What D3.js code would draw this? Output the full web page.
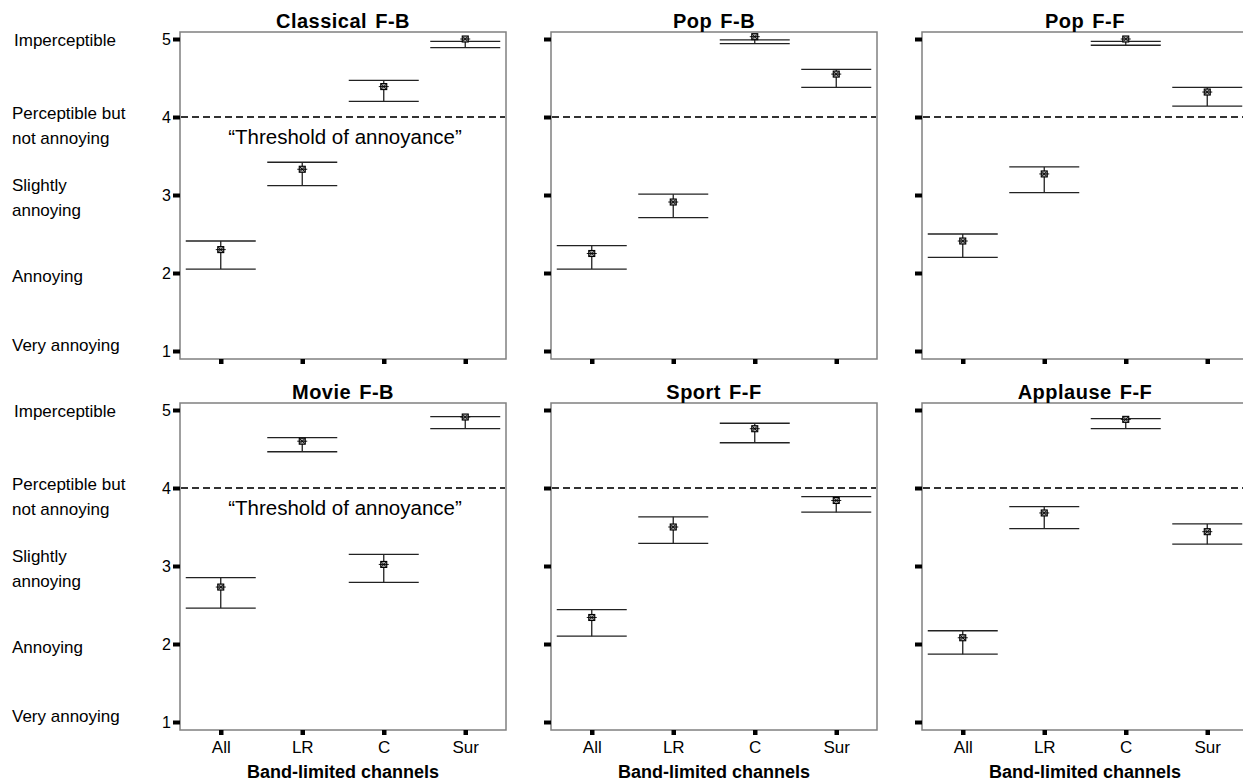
<!DOCTYPE html>
<html>
<head>
<meta charset="utf-8">
<script src="https://cdn.jsdelivr.net/npm/d3@7"></script>
<style>
  body { margin: 0; background: #fff; }
  text { font-family: Arial, "Liberation Sans", sans-serif; fill: #000; }
</style>
</head>
<body>
<div id="chart"></div>
<script>
// Data
const channels = ["All", "LR", "C", "Sur"];
const panelTitles = ["Classical F-B", "Pop F-B", "Pop F-F", "Movie F-B", "Sport F-F", "Applause F-F"];
const meanScores = [
  [2.30, 3.33, 4.39, 5.00],
  [2.25, 2.91, 5.03, 4.55],
  [2.41, 3.27, 5.00, 4.32],
  [2.73, 4.60, 3.02, 4.91],
  [2.34, 3.50, 4.76, 3.84],
  [2.08, 3.68, 4.88, 3.44]
];
const upperCI = [
  [2.41, 3.42, 4.47, 4.97],
  [2.35, 3.01, 4.99, 4.61],
  [2.50, 3.36, 4.97, 4.38],
  [2.85, 4.645, 3.15, 4.915],
  [2.44, 3.63, 4.83, 3.89],
  [2.17, 3.76, 4.89, 3.54]
];
const lowerCI = [
  [2.05, 3.12, 4.20, 4.89],
  [2.05, 2.71, 4.94, 4.38],
  [2.20, 3.03, 4.92, 4.14],
  [2.46, 4.465, 2.79, 4.76],
  [2.10, 3.29, 4.58, 3.69],
  [1.87, 3.48, 4.76, 3.28]
];
const scoreTicks = [1, 2, 3, 4, 5];
const scoreLabels = [["Very annoying"], ["Annoying"], ["Slightly", "annoying"], ["Perceptible but", "not annoying"], ["Imperceptible"]];
const thresholdScore = 4;
const thresholdText = "\u201CThreshold of annoyance\u201D";
const xAxisTitle = "Band-limited channels";

// Layout
const panelW = 326, panelH = 327;
const panelLeft = [180, 551, 922];
const panelTop = [32, 403];
const labelOffsets = [-6, 3, -10, -4, 1]; // vertical nudge of category text vs tick

const svg = d3.select("#chart").append("svg")
  .attr("width", 1243)
  .attr("height", 782);

const x = d3.scalePoint().domain(channels).range([0, panelW]).padding(0.5);
const y = d3.scaleLinear().domain([1, 5]).range([319, 7]);
const capHalf = 35;

panelTitles.forEach((title, i) => {
  const col = i % 3, row = Math.floor(i / 3);
  const g = svg.append("g")
    .attr("transform", `translate(${panelLeft[col]},${panelTop[row]})`);

  // frame
  g.append("rect")
    .attr("width", panelW).attr("height", panelH)
    .attr("fill", "none").attr("stroke", "#808080").attr("stroke-width", 1.5);

  // title
  g.append("text")
    .attr("x", panelW / 2).attr("y", -4)
    .attr("text-anchor", "middle")
    .style("font-size", "20px").style("font-weight", "bold")
    .style("letter-spacing", "0.5px").style("word-spacing", "2px")
    .text(title);

  // y axis (square tick marks)
  const yAxis = g.append("g")
    .call(d3.axisLeft(y).tickValues(scoreTicks).tickSize(7).tickPadding(2)
      .tickFormat(col === 0 ? d3.format("d") : ""));
  yAxis.select(".domain").remove();
  yAxis.selectAll(".tick line").attr("stroke", "#000").attr("stroke-width", 4);
  yAxis.selectAll(".tick text").style("font-size", "16px").style("font-family", "Arial, 'Liberation Sans', sans-serif");

  // x axis
  const xAxis = g.append("g")
    .attr("transform", `translate(0,${panelH})`)
    .call(d3.axisBottom(x).tickSize(5).tickPadding(6)
      .tickFormat(row === 1 ? (d => d) : ""));
  xAxis.select(".domain").remove();
  xAxis.selectAll(".tick line").attr("stroke", "#000").attr("stroke-width", 4.5);
  xAxis.selectAll(".tick text").style("font-size", "17px").style("font-family", "Arial, 'Liberation Sans', sans-serif");

  if (row === 1) {
    g.append("text")
      .attr("x", panelW / 2).attr("y", panelH + 48)
      .attr("text-anchor", "middle")
      .style("font-size", "18px").style("font-weight", "bold")
      .text(xAxisTitle);
  }

  // threshold line
  g.append("line")
    .attr("x1", 1).attr("x2", panelW - 1)
    .attr("y1", y(thresholdScore)).attr("y2", y(thresholdScore))
    .attr("stroke", "#333").attr("stroke-width", 1.8)
    .attr("stroke-dasharray", "7,4");

  if (col === 0) {
    g.append("text")
      .attr("x", panelW / 2 + 2).attr("y", y(thresholdScore) + 27)
      .attr("text-anchor", "middle")
      .style("font-size", "20.5px")
      .text(thresholdText);

    // category labels on the far left
    scoreTicks.forEach((s, k) => {
      const t = svg.append("text")
        .attr("x", 12)
        .attr("y", panelTop[row] + y(s) + labelOffsets[k] + 6)
        .style("font-size", "17px");
      scoreLabels[k].forEach((line, li) => {
        t.append("tspan").attr("x", k === 4 ? 14 : 12).attr("dy", li === 0 ? 0 : 24.5).text(line);
      });
    });
  }

  // error bars
  const rows = channels.map((c, j) => ({
    ch: c, mean: meanScores[i][j], lo: lowerCI[i][j], hi: upperCI[i][j]
  }));

  const bars = g.selectAll(".bar").data(rows).enter().append("g")
    .attr("class", "bar")
    .attr("transform", d => `translate(${x(d.ch)},0)`);

  bars.append("line")
    .attr("x1", 0).attr("x2", 0)
    .attr("y1", d => y(d.lo)).attr("y2", d => y(Math.max(d.hi, d.mean)))
    .attr("stroke", "#222").attr("stroke-width", 1.3);

  bars.append("line")
    .attr("x1", -capHalf).attr("x2", capHalf)
    .attr("y1", d => y(d.hi)).attr("y2", d => y(d.hi))
    .attr("stroke", "#222").attr("stroke-width", 1.3);

  bars.append("line")
    .attr("x1", -capHalf).attr("x2", capHalf)
    .attr("y1", d => y(d.lo)).attr("y2", d => y(d.lo))
    .attr("stroke", "#222").attr("stroke-width", 1.3);

  // mean marker: small hatched square
  const m = bars.append("g").attr("transform", d => `translate(0,${y(d.mean)})`);
  m.append("rect")
    .attr("x", -3).attr("y", -3).attr("width", 6).attr("height", 6)
    .attr("fill", "#aaa").attr("stroke", "#000").attr("stroke-width", 1.1);
  m.append("path")
    .attr("d", "M-5,0H5M-2.5,-2.5L2.5,2.5M-2.5,2.5L2.5,-2.5")
    .attr("stroke", "#000").attr("stroke-width", 0.9);
});
</script>
</body>
</html>
